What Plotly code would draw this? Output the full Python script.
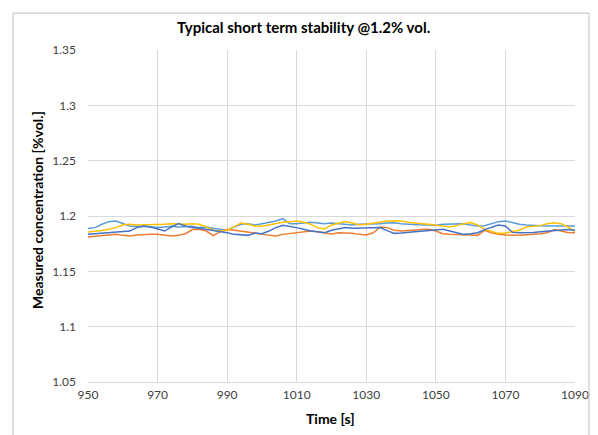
import plotly.graph_objects as go

# Time axis (s)
time_s = list(range(950, 1091, 2))

series_light_blue = [
    1.1886, 1.1895, 1.1925, 1.1949, 1.1955, 1.1931, 1.1910, 1.1904, 1.1907, 1.1901,
    1.1895, 1.1901, 1.1907, 1.1901, 1.1901, 1.1907, 1.1895, 1.1901, 1.1889, 1.1880,
    1.1871, 1.1901, 1.1925, 1.1931, 1.1919, 1.1931, 1.1940, 1.1955, 1.1976, 1.1931,
    1.1931, 1.1937, 1.1943, 1.1937, 1.1931, 1.1937, 1.1931, 1.1925, 1.1919, 1.1925,
    1.1925, 1.1931, 1.1931, 1.1937, 1.1940, 1.1931, 1.1925, 1.1922, 1.1919, 1.1919,
    1.1916, 1.1925, 1.1925, 1.1931, 1.1931, 1.1919, 1.1910, 1.1913, 1.1931, 1.1949,
    1.1955, 1.1937, 1.1925, 1.1919, 1.1919, 1.1913, 1.1910, 1.1913, 1.1910, 1.1910,
    1.1910,
]
series_dark_blue = [
    1.1834, 1.1840, 1.1846, 1.1849, 1.1852, 1.1858, 1.1864, 1.1895, 1.1910, 1.1901,
    1.1880, 1.1864, 1.1901, 1.1931, 1.1910, 1.1895, 1.1889, 1.1880, 1.1871, 1.1864,
    1.1849, 1.1834, 1.1828, 1.1825, 1.1846, 1.1840, 1.1864, 1.1895, 1.1916, 1.1907,
    1.1895, 1.1880, 1.1864, 1.1858, 1.1849, 1.1871, 1.1880, 1.1895, 1.1889, 1.1889,
    1.1889, 1.1895, 1.1895, 1.1868, 1.1843, 1.1846, 1.1852, 1.1855, 1.1858, 1.1864,
    1.1871, 1.1880, 1.1864, 1.1846, 1.1834, 1.1840, 1.1849, 1.1877, 1.1901, 1.1919,
    1.1910, 1.1852, 1.1849, 1.1849, 1.1852, 1.1858, 1.1864, 1.1871, 1.1877, 1.1877,
    1.1871,
]
series_orange = [
    1.1810, 1.1816, 1.1825, 1.1831, 1.1834, 1.1825, 1.1819, 1.1828, 1.1834, 1.1834,
    1.1834, 1.1828, 1.1819, 1.1825, 1.1840, 1.1877, 1.1880, 1.1864, 1.1822, 1.1858,
    1.1877, 1.1871, 1.1864, 1.1852, 1.1846, 1.1834, 1.1828, 1.1819, 1.1834, 1.1840,
    1.1849, 1.1858, 1.1864, 1.1858, 1.1849, 1.1837, 1.1849, 1.1849, 1.1843, 1.1834,
    1.1828, 1.1849, 1.1901, 1.1895, 1.1871, 1.1864, 1.1871, 1.1874, 1.1877, 1.1880,
    1.1864, 1.1840, 1.1834, 1.1834, 1.1834, 1.1828, 1.1825, 1.1871, 1.1849, 1.1834,
    1.1828, 1.1825, 1.1825, 1.1831, 1.1834, 1.1840, 1.1849, 1.1877, 1.1864, 1.1852,
    1.1849,
]
series_gold = [
    1.1855, 1.1861, 1.1868, 1.1880, 1.1895, 1.1919, 1.1925, 1.1919, 1.1919, 1.1925,
    1.1925, 1.1925, 1.1931, 1.1928, 1.1925, 1.1931, 1.1925, 1.1901, 1.1871, 1.1864,
    1.1871, 1.1901, 1.1937, 1.1925, 1.1910, 1.1907, 1.1919, 1.1937, 1.1943, 1.1949,
    1.1955, 1.1943, 1.1925, 1.1895, 1.1883, 1.1919, 1.1937, 1.1949, 1.1937, 1.1919,
    1.1925, 1.1937, 1.1949, 1.1955, 1.1958, 1.1955, 1.1943, 1.1940, 1.1931, 1.1925,
    1.1919, 1.1907, 1.1901, 1.1913, 1.1931, 1.1940, 1.1919, 1.1880, 1.1858, 1.1843,
    1.1846, 1.1858, 1.1871, 1.1901, 1.1910, 1.1913, 1.1931, 1.1940, 1.1931, 1.1901,
    1.1858,
]

x_ticks = [950, 970, 990, 1010, 1030, 1050, 1070, 1090]
y_ticks = [1.05, 1.1, 1.15, 1.2, 1.25, 1.3, 1.35]
y_tick_labels = ["1.05", "1.1", "1.15", "1.2", "1.25", "1.3", "1.35"]

title_text = "Typical short term stability @1.2% vol."
x_title = "Time [s]"
y_title = "Measured concentration [%vol.]"

FONT = "Lato, 'Liberation Sans', sans-serif"
TICK_COLOR = "#404040"

fig = go.Figure()
for vals, color in [
    (series_light_blue, "#5B9BD5"),
    (series_orange, "#ED7D31"),
    (series_gold, "#FFC000"),
    (series_dark_blue, "#4472C4"),
]:
    fig.add_trace(go.Scatter(x=time_s, y=vals, mode="lines",
                             line=dict(color=color, width=1.5),
                             showlegend=False, hoverinfo="skip"))

# page body has an 8px offset, so the figure is 590x427
fig.update_layout(
    width=590, height=427,
    margin=dict(l=80, r=23, t=42, b=53, autoexpand=False),
    paper_bgcolor="white", plot_bgcolor="white",
    font=dict(family=FONT, size=12, color=TICK_COLOR),
    showlegend=False,
)
fig.update_xaxes(range=[950, 1090], tickvals=x_ticks, showgrid=True,
                 gridcolor="#D9D9D9", gridwidth=1, zeroline=False,
                 showline=True, linecolor="#D9D9D9", linewidth=1, mirror=False,
                 ticks="", automargin=False, ticklabelstandoff=2,
                 tickfont=dict(size=12, color=TICK_COLOR))
fig.update_yaxes(range=[1.05, 1.35], tickvals=y_ticks, ticktext=y_tick_labels,
                 showgrid=True, gridcolor="#D9D9D9", gridwidth=1, zeroline=False,
                 showline=False, ticks="", automargin=False, ticklabelstandoff=11,
                 tickfont=dict(size=12, color=TICK_COLOR))

# Outer chart frame
fig.add_shape(type="rect", xref="paper", yref="paper",
              x0=-0.154, x1=1.0287, y0=-0.2, y1=1.111,
              line=dict(color="#BFBFBF", width=1), fillcolor="rgba(0,0,0,0)",
              layer="above")

fig.add_annotation(text="<b>" + title_text + "</b>", xref="paper", yref="paper",
                   x=0.4435, y=1.069, showarrow=False,
                   font=dict(family=FONT, size=15, color="#000000"),
                   xanchor="center", yanchor="middle")
fig.add_annotation(text="<b>" + x_title + "</b>", xref="paper", yref="paper",
                   x=0.498, y=-0.111, showarrow=False,
                   font=dict(family=FONT, size=14, color="#000000"),
                   xanchor="center", yanchor="middle")
fig.add_annotation(text="<b>" + y_title + "</b>", xref="paper", yref="paper",
                   x=-0.1047, y=0.518, showarrow=False, textangle=-90,
                   font=dict(family=FONT, size=14, color="#000000"),
                   xanchor="center", yanchor="middle")

fig.write_html("out.html")
